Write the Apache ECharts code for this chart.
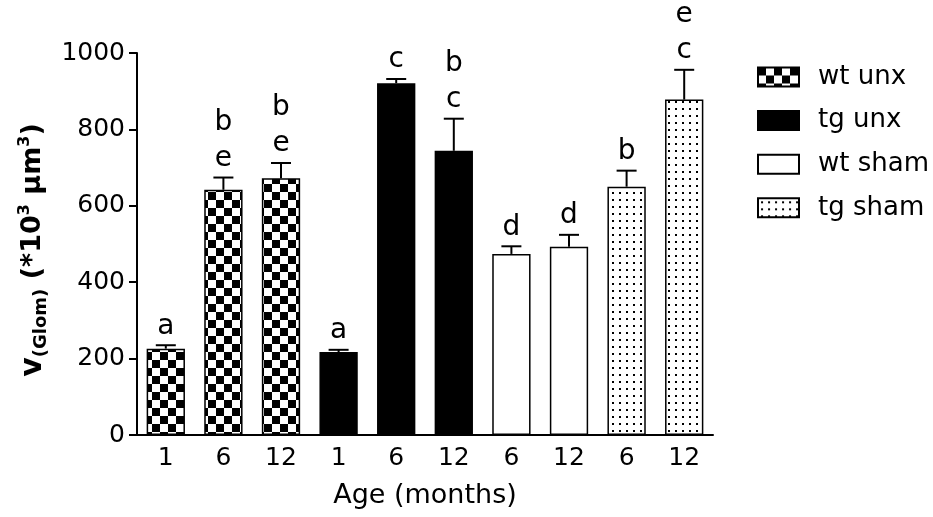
<!DOCTYPE html>
<html>
<head>
<meta charset="utf-8">
<script src="https://cdn.jsdelivr.net/npm/echarts@6/dist/echarts.min.js"></script>
<style>
  html, body { margin: 0; padding: 0; background: #fff; }
  #chart { width: 933px; height: 517px; }
</style>
</head>
<body>
<div id="chart"></div>
<script>
// data
const categories = ['1', '6', '12', '1', '6', '12', '6', '12', '6', '12'];
const groups = ['wt unx', 'tg unx', 'wt sham', 'tg sham'];
const groupOf = [0, 0, 0, 1, 1, 1, 2, 2, 3, 3];
const means = [226, 642, 672, 217, 921, 744, 474, 493, 650, 878];
const sems = [9, 32, 40, 6, 11, 84, 20, 31, 42, 78];
const letters = [['a'], ['b', 'e'], ['b', 'e'], ['a'], ['c'], ['b', 'c'], ['d'], ['d'], ['b'], ['e', 'c']];
const yTicks = [0, 200, 400, 600, 800, 1000];

const FONT = 'DejaVu Sans';

// fill patterns
function checkerPattern() {
  const c = document.createElement('canvas');
  c.width = 16; c.height = 16;
  const g = c.getContext('2d');
  g.fillStyle = '#fff'; g.fillRect(0, 0, 16, 16);
  g.fillStyle = '#000';
  g.fillRect(0, 0, 8, 8);
  g.fillRect(8, 8, 8, 8);
  return { image: c, repeat: 'repeat' };
}
function dotPattern() {
  const c = document.createElement('canvas');
  c.width = 7; c.height = 7;
  const g = c.getContext('2d');
  g.fillStyle = '#fff'; g.fillRect(0, 0, 7, 7);
  g.fillStyle = '#000';
  g.fillRect(3, 3, 2, 2);
  return { image: c, repeat: 'repeat' };
}
const fills = [checkerPattern(), '#000', '#fff', dotPattern()];

const chart = echarts.init(document.getElementById('chart'));

const barSeries = groups.map((name, gi) => ({
  name: name,
  type: 'bar',
  stack: 'all',
  barCategoryGap: '33.5%',
  data: means.map((v, i) => (groupOf[i] === gi ? v : null)),
  itemStyle: { color: fills[gi], borderColor: '#000', borderWidth: 1.5 }
}));

const errData = means.map((v, i) => [i, v, sems[i]]);

const option = {
  animation: false,
  grid: { left: 137, right: 220, top: 53, bottom: 82 },
  legend: {
    data: groups,
    orient: 'vertical',
    left: 752,
    top: 59,
    itemWidth: 41,
    itemHeight: 19,
    itemGap: 17.6,
    icon: 'rect',
    selectedMode: false,
    textStyle: { fontFamily: FONT, fontSize: 26, color: '#000', padding: [0, 0, 0, 14] }
  },
  xAxis: {
    type: 'category',
    data: categories,
    name: 'Age (months)',
    nameLocation: 'middle',
    nameGap: 47,
    nameTextStyle: { fontFamily: FONT, fontSize: 27, color: '#000' },
    axisLine: { lineStyle: { color: '#000', width: 2 } },
    axisTick: { show: false },
    axisLabel: { fontFamily: FONT, fontSize: 25, color: '#000', margin: 11 }
  },
  yAxis: {
    type: 'value',
    min: 0,
    max: 1000,
    interval: 200,
    name: '{v|v}{sub|(Glom)}{m| (*10}{sup|3}{m| µm}{sup|3}{m|)}',
    nameLocation: 'middle',
    nameGap: 86,
    nameTextStyle: {
      padding: [0, 12, 0, 0],
      rich: {
        v: { fontFamily: FONT, fontWeight: 'bold', fontSize: 30, lineHeight: 34, color: '#000', verticalAlign: 'middle' },
        m: { fontFamily: FONT, fontWeight: 'bold', fontSize: 27, lineHeight: 34, color: '#000', verticalAlign: 'middle' },
        sub: { fontFamily: FONT, fontWeight: 'bold', fontSize: 18, lineHeight: 18, color: '#000', verticalAlign: 'bottom' },
        sup: { fontFamily: FONT, fontWeight: 'bold', fontSize: 16, lineHeight: 16, color: '#000', verticalAlign: 'top' }
      }
    },
    axisLine: { show: true, lineStyle: { color: '#000', width: 2 } },
    axisTick: { show: true, length: 8, lineStyle: { color: '#000', width: 2 } },
    axisLabel: {
      fontFamily: FONT, fontSize: 25, color: '#000', margin: 12,
      formatter: v => (yTicks.indexOf(v) >= 0 ? String(v) : '')
    },
    splitLine: { show: false }
  },
  series: barSeries.concat([{
    type: 'custom',
    z: 5,
    data: errData,
    encode: { x: 0, y: 1 },
    renderItem: function (params, api) {
      const i = api.value(0);
      const base = api.coord([i, api.value(1)]);
      const top = api.coord([i, api.value(1) + api.value(2)]);
      const half = 10;
      const children = [
        { type: 'line', shape: { x1: base[0], y1: base[1], x2: top[0], y2: top[1] }, style: { stroke: '#000', lineWidth: 2 } },
        { type: 'line', shape: { x1: top[0] - half, y1: top[1], x2: top[0] + half, y2: top[1] }, style: { stroke: '#000', lineWidth: 2 } }
      ];
      const ls = letters[i];
      for (let k = 0; k < ls.length; k++) {
        const level = ls.length - 1 - k;
        children.push({
          type: 'text',
          style: {
            text: ls[k],
            x: top[0],
            y: top[1] - 5 - level * 36,
            align: 'center',
            verticalAlign: 'bottom',
            fontFamily: FONT,
            fontSize: 28,
            fill: '#000'
          }
        });
      }
      return { type: 'group', children: children };
    }
  }])
};

chart.setOption(option);
</script>
</body>
</html>
